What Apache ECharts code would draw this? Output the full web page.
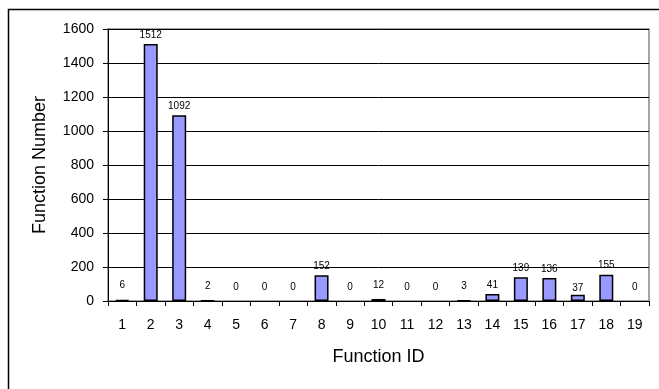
<!DOCTYPE html>
<html><head><meta charset="utf-8">
<script src="https://cdn.jsdelivr.net/npm/echarts@6/dist/echarts.min.js"></script>
<style>html,body{margin:0;padding:0;background:#fff}#c{width:659px;height:389px}</style>
</head><body><div id="c"></div>
<script>
var categories = ['1','2','3','4','5','6','7','8','9','10','11','12','13','14','15','16','17','18','19'];
var values = [6,1512,1092,2,0,0,0,152,0,12,0,0,3,41,139,136,37,155,0];
var yTicks = [0,200,400,600,800,1000,1200,1400,1600];

var chart = echarts.init(document.getElementById('c'), null, {renderer:'canvas'});
var font = 'Arial, "Liberation Sans", sans-serif';
var barData = values.map(function(v){
  return {value:v,
    itemStyle:{borderWidth: v === 0 ? 0 : 1.5},
    label:{distance: v < 20 ? 9 : (v < 40 ? 1 : 4)}};
});
chart.setOption({
  animation:false,
  backgroundColor:'#fff',
  grid:{left:108,right:10,top:29,bottom:88,show:true,borderColor:'#888',borderWidth:1.5,backgroundColor:'#fff'},
  xAxis:{type:'category',data:categories,
    name:'Function ID',nameLocation:'middle',nameGap:47,
    nameTextStyle:{fontFamily:font,fontSize:18,color:'#000'},
    axisLine:{lineStyle:{color:'#000',width:1}},
    axisTick:{show:true,alignWithLabel:false,length:5,lineStyle:{color:'#000'}},
    axisLabel:{fontFamily:font,fontSize:14,color:'#000',margin:17,interval:0}
  },
  yAxis:{type:'value',min:yTicks[0],max:yTicks[yTicks.length-1],interval:200,
    name:'Function Number',nameLocation:'middle',nameGap:59,
    nameTextStyle:{fontFamily:font,fontSize:18,color:'#000'},
    axisLine:{show:true,lineStyle:{color:'#000',width:1}},
    axisTick:{show:true,length:5,lineStyle:{color:'#000'}},
    splitLine:{show:true,lineStyle:{color:'#000',width:1}},
    axisLabel:{fontFamily:font,fontSize:14,color:'#000',margin:14,formatter:function(v){return String(v);}}
  },
  series:[{type:'bar',data:barData,barWidth:14,
    itemStyle:{color:'#9999FF',borderColor:'#000',borderWidth:1.5},
    label:{show:true,position:'top',distance:4,fontFamily:font,fontSize:10,color:'#000'}
  }],
  graphic:[{type:'rect',shape:{x:8.5,y:9.5,width:700,height:420},style:{fill:null,stroke:'#000',lineWidth:1.5},silent:true}]
});
</script></body></html>
